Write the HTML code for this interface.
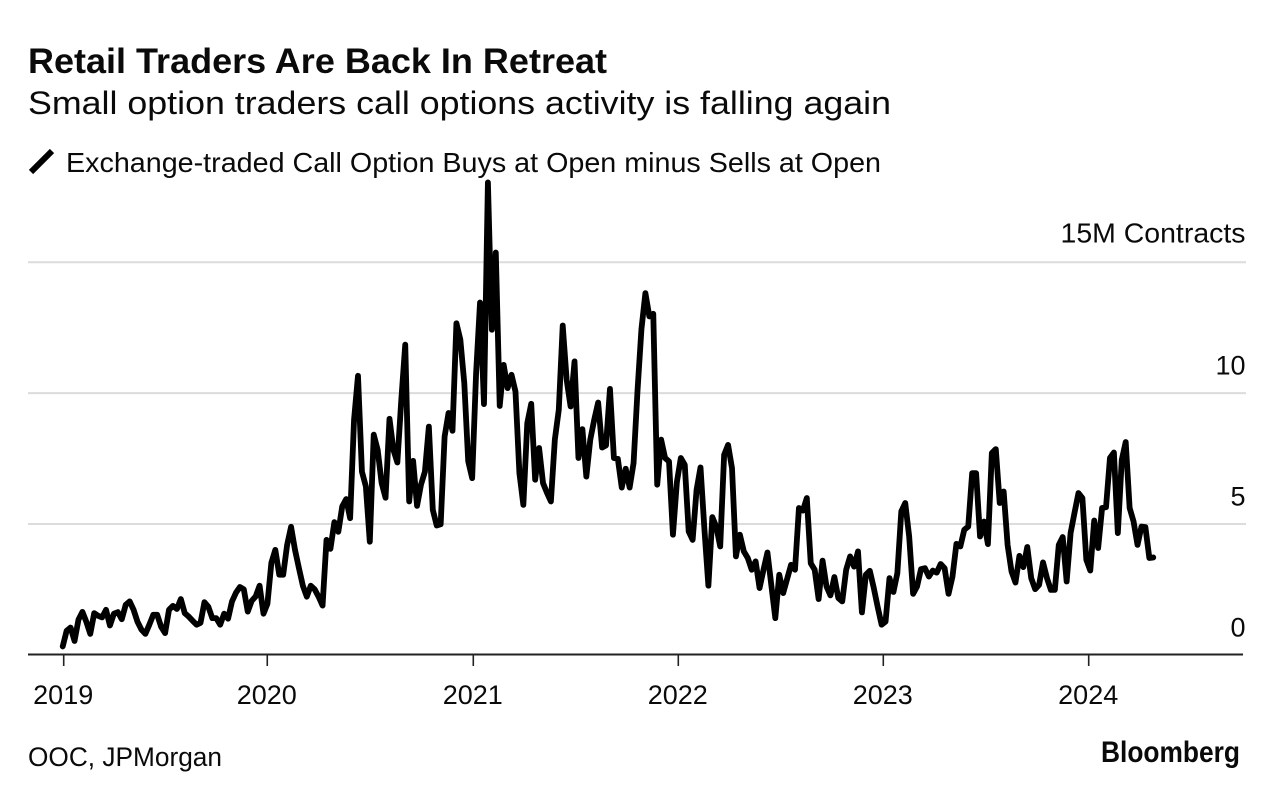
<!DOCTYPE html>
<html lang="en">
<head>
<meta charset="utf-8">
<title>Retail Traders Are Back In Retreat</title>
<style>
html,body{margin:0;padding:0;background:#fff;}
svg{display:block;font-family:"Liberation Sans",Arial,sans-serif;}
text{fill:#0a0a0a;}
</style>
</head>
<body>
<svg id="chart" width="1279" height="798" viewBox="0 0 1279 798" xmlns="http://www.w3.org/2000/svg">
  <rect x="0" y="0" width="1279" height="798" fill="#ffffff"/>
  <text x="28" y="73" font-size="35.5" font-weight="700" textLength="579" lengthAdjust="spacingAndGlyphs">Retail Traders Are Back In Retreat</text>
  <text x="28" y="114" font-size="32.5" textLength="863" lengthAdjust="spacingAndGlyphs">Small option traders call options activity is falling again</text>
  <line x1="31" y1="172" x2="52" y2="151" stroke="#000" stroke-width="6"/>
  <text x="66" y="172" font-size="27.5" textLength="815" lengthAdjust="spacingAndGlyphs">Exchange-traded Call Option Buys at Open minus Sells at Open</text>
  <text x="28" y="766" font-size="26.5" textLength="194" lengthAdjust="spacingAndGlyphs">OOC, JPMorgan</text>
  <text x="1101" y="762" font-size="29.5" font-weight="700" textLength="139" lengthAdjust="spacingAndGlyphs">Bloomberg</text>
  <g id="grid"></g>
  <g id="axis"></g>
  <g id="series"></g>
</svg>
<script>
const yearLabels = ["2019", "2020", "2021", "2022", "2023", "2024"];
const yearTickDates = [2019, 2019.993, 2020.998, 2021.998, 2022.998, 2024];
const yTicks = [0, 5, 10, 15];
const yTickLabels = ["0", "5", "10", "15M Contracts"];
const weeksPerYear = 52.07;
const firstWeekOffset = -0.25;
const contracts = [
0.32,0.92,1.04,0.53,1.34,1.64,1.26,0.80,1.59,1.49,
1.43,1.72,1.12,1.57,1.63,1.36,1.91,2.04,1.72,1.26,
0.96,0.80,1.15,1.53,1.53,1.07,0.83,1.72,1.87,1.75,
2.13,1.59,1.46,1.30,1.15,1.22,2.01,1.83,1.40,1.40,
1.15,1.57,1.38,2.04,2.37,2.59,2.50,1.65,2.06,2.23,
2.64,1.57,1.95,3.52,4.01,3.06,3.06,4.20,4.89,4.01,
3.31,2.64,2.22,2.64,2.50,2.22,1.88,4.39,4.05,5.07,
4.70,5.67,5.95,5.22,8.98,10.66,7.00,6.43,4.32,8.41,
7.83,6.57,6.00,9.02,7.83,7.35,9.74,11.85,5.86,7.41,
5.69,6.50,7.00,8.72,5.54,4.94,4.99,8.34,9.24,8.56,
12.67,12.04,10.38,7.39,6.75,10.76,13.46,9.58,18.05,12.42,
15.37,9.51,11.08,10.19,10.70,10.06,6.94,5.73,8.85,9.59,
6.69,7.90,6.56,6.19,5.86,8.22,9.36,12.58,10.51,9.49,
11.21,7.52,8.62,6.81,8.22,8.98,9.64,7.92,8.00,10.16,
7.52,7.49,6.39,7.11,6.39,7.33,10.10,12.45,13.82,12.93,
13.03,6.50,8.22,7.52,7.39,4.59,6.60,7.52,7.26,4.71,
4.39,6.30,7.16,4.78,2.64,5.26,4.90,4.14,7.64,8.02,
7.13,3.76,4.59,3.95,3.70,3.25,3.57,2.55,3.25,3.91,
2.64,1.40,3.06,2.36,2.90,3.44,3.25,5.61,5.51,5.99,
3.50,3.25,2.13,3.60,2.61,2.27,2.97,2.17,2.04,3.25,
3.76,3.37,3.95,1.62,3.06,3.21,2.56,1.83,1.15,1.27,
2.93,2.40,3.12,5.48,5.80,4.52,2.33,2.61,3.27,3.31,
2.99,3.22,3.14,3.47,3.31,2.33,2.99,4.24,4.14,4.78,
4.90,6.94,6.94,4.52,5.09,4.23,7.71,7.86,5.80,6.24,
4.20,3.18,2.76,3.78,3.35,4.12,2.93,2.51,2.67,3.53,
2.93,2.48,2.48,4.20,4.50,2.80,4.65,5.43,6.18,5.99,
3.63,3.22,5.13,4.08,5.61,5.64,7.52,7.73,4.65,7.45,
8.13,5.61,5.09,4.20,4.90,4.88,3.70,3.72
];

const NS = "http://www.w3.org/2000/svg";
function xScale(year) { return 63.7 + (year - 2019) * 205; }
function yScale(value) { return 654.8 - value * 26.17; }
function weekToYear(week) { return 2019 + (week + firstWeekOffset) / weeksPerYear; }

const grid = document.getElementById("grid");
const axis = document.getElementById("axis");
const series = document.getElementById("series");

yTicks.forEach(function (tick, idx) {
  if (tick !== 0) {
    const gl = document.createElementNS(NS, "line");
    gl.setAttribute("x1", 28);
    gl.setAttribute("x2", 1246);
    gl.setAttribute("y1", yScale(tick));
    gl.setAttribute("y2", yScale(tick));
    gl.setAttribute("stroke", "#dcdcdc");
    gl.setAttribute("stroke-width", 2);
    
    
    grid.appendChild(gl);
  }
  const lb = document.createElementNS(NS, "text");
  lb.setAttribute("x", 1245.5);
  lb.setAttribute("y", yScale(tick) - (tick === 15 ? 20 : 18.5));
  lb.setAttribute("text-anchor", "end");
  lb.setAttribute("font-size", tick === 15 ? 28 : 27);
  if (tick === 15) {
    lb.setAttribute("textLength", 185);
    lb.setAttribute("lengthAdjust", "spacingAndGlyphs");
  }
  lb.textContent = yTickLabels[idx];
  
  
  grid.appendChild(lb);
});

const baseline = document.createElementNS(NS, "line");
baseline.setAttribute("x1", 28);
baseline.setAttribute("x2", 1243);
baseline.setAttribute("y1", 654.5);
baseline.setAttribute("y2", 654.5);
baseline.setAttribute("stroke", "#222");
baseline.setAttribute("stroke-width", 2);


axis.appendChild(baseline);

yearTickDates.forEach(function (tickDate, idx) {
  const t = document.createElementNS(NS, "line");
  t.setAttribute("x1", xScale(tickDate));
  t.setAttribute("x2", xScale(tickDate));
  t.setAttribute("y1", 654.5);
  t.setAttribute("y2", 666);
  t.setAttribute("stroke", "#222");
  t.setAttribute("stroke-width", 1.6);
  
  
  axis.appendChild(t);
  const lb = document.createElementNS(NS, "text");
  lb.setAttribute("x", xScale(tickDate) - 0.5);
  lb.setAttribute("y", 704);
  lb.setAttribute("text-anchor", "middle");
  lb.setAttribute("font-size", 27);
  lb.textContent = yearLabels[idx];
  
  
  axis.appendChild(lb);
});

const pathData = contracts.map(function (v, i) {
  return (i === 0 ? "M" : "L") + xScale(weekToYear(i)).toFixed(2) + " " + yScale(v).toFixed(2);
}).join(" ");
const linePath = document.createElementNS(NS, "path");
linePath.setAttribute("d", pathData);
linePath.setAttribute("fill", "none");
linePath.setAttribute("stroke", "#000");
linePath.setAttribute("stroke-width", 5.8);
linePath.setAttribute("stroke-linejoin", "round");
linePath.setAttribute("stroke-linecap", "round");


series.appendChild(linePath);
</script>
</body>
</html>
